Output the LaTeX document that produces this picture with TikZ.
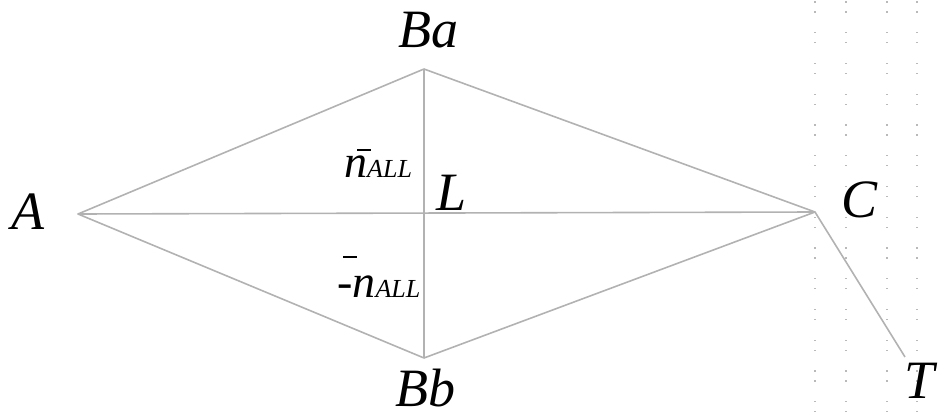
\documentclass[tikz,border=0pt]{standalone}
\usepackage{fontspec}
\setmainfont{Liberation Serif}
\usetikzlibrary{arrows.meta}
\begin{document}
\begin{tikzpicture}[x=1pt,y=-1pt,
  edge/.style={draw=gray!60,line width=1.6pt},
  lab/.style={font=\fontsize{54}{60}\selectfont\itshape,inner sep=0pt},
  gdot/.style={fill=gray!55}]
\useasboundingbox (0,0) rectangle (939,417);
% faint dot grid on the right
\foreach \gx in {815,846,887,917}{
  \foreach \k in {0,...,13}{
    \fill[gdot] (\gx-0.6,{2+30.75*\k-0.6}) rectangle ++(1.2,1.2);
    \fill[gdot] (\gx-0.6,{12+30.75*\k-0.6}) rectangle ++(1.2,1.2);
  }}
\coordinate (A) at (78,214);
\coordinate (Ba) at (424,69);
\coordinate (Bb) at (424,358);
\coordinate (C) at (815,212);
\coordinate (T) at (905,357);
\draw[edge,line join=round] (A) -- (Ba) -- (C) -- (Bb) -- cycle;
\draw[edge] (A) -- (C);
\draw[edge] (Ba) -- (Bb);
\draw[edge] (C) -- (T);
\node[lab] (lA) at (28,212) {A};
\node[lab] (lBa) at (428,30) {Ba};
\node[lab] (lBb) at (425,388) {Bb};
\node[lab] (lC) at (859,200) {C};
\node[lab] (lT) at (920,381) {T};
\node[lab,anchor=base west] (lL) at (436,210) {L};
\node[inner sep=0pt,anchor=base west] (nu) at (344,177)
  {\fontsize{46}{46}\selectfont\itshape n\fontsize{26}{26}\selectfont ALL};
\node[inner sep=0pt,anchor=base west] (nd) at (337,297)
  {\fontsize{46}{46}\selectfont -\itshape n\fontsize{26}{26}\selectfont ALL};
\draw[line width=1.4pt] (357,150) -- (371,150);
\draw[line width=1.4pt] (343,257) -- (357,257);
\end{tikzpicture}
\end{document}
